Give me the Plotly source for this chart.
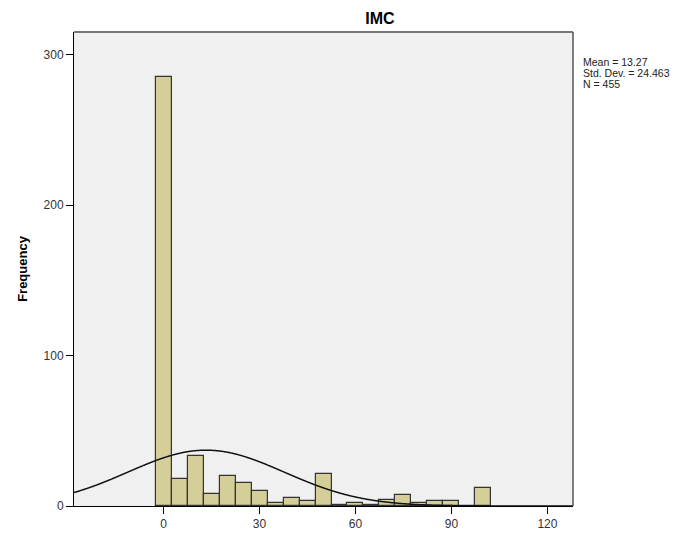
import numpy as np
import plotly.graph_objects as go

# Histogram data (bin centers, width 5)
bin_centers = [0, 5, 10, 15, 20, 25, 30, 35, 40, 45, 50, 55, 60, 65, 70, 75, 80, 85, 90, 95, 100]
counts = [285, 18, 33, 8, 20, 15, 10, 2, 5, 3, 21, 1, 2, 1, 4, 7, 2, 3, 3, 0, 12]
bin_width = 5

mean_val = 13.27
std_val = 24.463
n_val = 455

x_ticks = [0, 30, 60, 90, 120]
y_ticks = [0, 100, 200, 300]

# normal curve scaled to histogram
xc = np.linspace(-28, 128, 600)
yc = n_val * bin_width / (std_val * np.sqrt(2 * np.pi)) * np.exp(-0.5 * ((xc - mean_val) / std_val) ** 2)

fig = go.Figure()
fig.add_trace(go.Bar(
    x=bin_centers, y=counts, width=bin_width,
    marker=dict(color="#D4CF98", line=dict(color="#333333", width=1.2)),
    showlegend=False, hoverinfo="x+y",
))
fig.add_trace(go.Scatter(
    x=xc, y=yc, mode="lines", line=dict(color="#111111", width=1.5, shape="spline"),
    showlegend=False, hoverinfo="skip",
))

OFF = 8  # default page body margin
W, H = 694 - OFF, 533 - OFF
L, R, T, B = 74 - OFF, 573 - OFF, 32 - OFF, 506 - OFF

def px_x(px):
    return (px - OFF - L) / (R - L)

def px_y(py):
    return (B - (py - OFF)) / (B - T)

annotations = []
for text, py in [("Mean = 13.27", 62), ("Std. Dev. = 24.463", 73), ("N = 455", 84)]:
    annotations.append(dict(
        text=text, xref="paper", yref="paper", x=px_x(581), y=px_y(py),
        xanchor="left", yanchor="middle", showarrow=False,
        font=dict(family="Liberation Sans, Arial", size=10.5, color="#222222"),
    ))

fig.update_layout(
    width=W, height=H,
    margin=dict(l=L, r=W - R, t=T, b=H - B, pad=0, autoexpand=False),
    paper_bgcolor="white",
    plot_bgcolor="#F0F0F0",
    bargap=0,
    title=dict(text="<b>IMC</b>", xref="container", yref="container",
               x=(380 - OFF) / W, y=1 - (18 - OFF) / H, xanchor="center", yanchor="middle",
               font=dict(family="Liberation Sans, Arial", size=16, color="#000000")),
    font=dict(family="Liberation Sans, Arial", size=12, color="#333333"),
    xaxis=dict(range=[-28, 128], tickvals=x_ticks, ticks="outside", ticklen=7,
               tickcolor="#000000", showgrid=False, zeroline=False, automargin=False,
               showline=True, linecolor="#000000", linewidth=1,
               tickfont=dict(size=12, color="#333333")),
    yaxis=dict(range=[0, 315], tickvals=y_ticks, ticks="outside", ticklen=7,
               tickcolor="#000000", showgrid=False, zeroline=False, automargin=False,
               showline=True, linecolor="#000000", linewidth=1,
               title=dict(text="<b>Frequency</b>", standoff=13,
                          font=dict(size=13, color="#000000")),
               tickfont=dict(size=12, color="#333333")),
    annotations=annotations,
    shapes=[
        dict(type="line", xref="paper", yref="paper", x0=0, x1=1, y0=1, y1=1,
             line=dict(color="#777777", width=2)),
        dict(type="line", xref="paper", yref="paper", x0=1, x1=1, y0=0, y1=1,
             line=dict(color="#555555", width=1.5)),
    ],
)

fig.write_html("out.html")
